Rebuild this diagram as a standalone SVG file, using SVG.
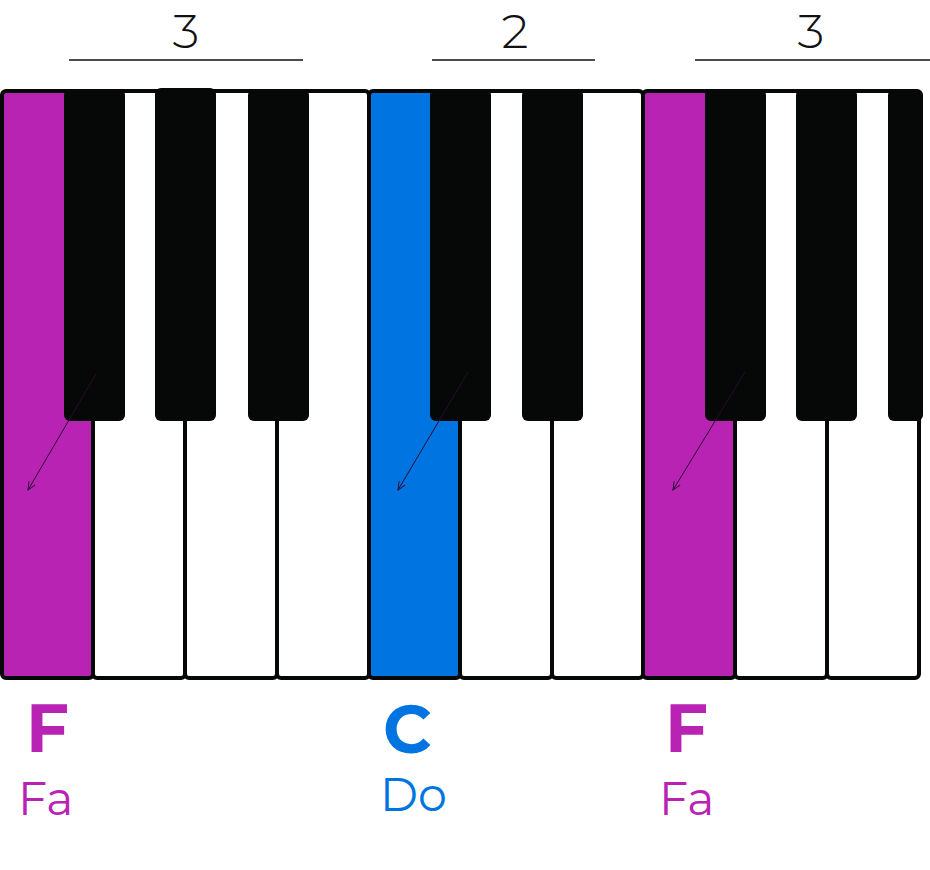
<svg xmlns="http://www.w3.org/2000/svg" width="930" height="870" viewBox="0 0 930 870">
<defs>
<style>
.w{fill:#fff;stroke:#050807;stroke-width:4}
.f{fill:#B823B4;stroke:#050807;stroke-width:4}
.c{fill:#0074E0;stroke:#050807;stroke-width:4}
.b{fill:#050807}
.num{font-family:"Montserrat","Open Sans","Liberation Sans",sans-serif;font-size:48px;font-weight:300;fill:#111;text-anchor:middle}
.br{stroke:#111;stroke-width:1.5}
.big{font-family:"Montserrat","Open Sans","Liberation Sans",sans-serif;font-weight:700;font-size:67px}
.sm{font-family:"Montserrat","Open Sans","Liberation Sans",sans-serif;font-weight:400;font-size:46px}
.arr{stroke:#2a0a30;stroke-width:1;fill:none}
</style>
<marker id="ah" viewBox="0 0 10 10" refX="9" refY="5" markerWidth="9" markerHeight="9" orient="auto" markerUnits="userSpaceOnUse">
<path d="M0,1 L9,5 L0,9" fill="none" stroke="#2a0a30" stroke-width="1"/>
</marker>
</defs>
<rect width="930" height="870" fill="#fff"/>
<g id="brackets">
<text class="num" x="186" y="48">3</text>
<line class="br" x1="69" y1="60" x2="303" y2="60"/>
<text class="num" x="515" y="48">2</text>
<line class="br" x1="432" y1="60" x2="595" y2="60"/>
<text class="num" x="811" y="48">3</text>
<line class="br" x1="695" y1="60" x2="930" y2="60"/>
</g>
<g id="white-keys">
<rect class="f" x="2" y="91" width="91" height="587" rx="4"/>
<rect class="w" x="93" y="91" width="92" height="587" rx="4"/>
<rect class="w" x="185" y="91" width="92" height="587" rx="4"/>
<rect class="w" x="277" y="91" width="92" height="587" rx="4"/>
<rect class="c" x="369" y="91" width="91" height="587" rx="4"/>
<rect class="w" x="460" y="91" width="92" height="587" rx="4"/>
<rect class="w" x="552" y="91" width="91" height="587" rx="4"/>
<rect class="f" x="643" y="91" width="92" height="587" rx="4"/>
<rect class="w" x="735" y="91" width="92" height="587" rx="4"/>
<rect class="w" x="827" y="91" width="92" height="587" rx="4"/>
</g>
<g id="black-keys">
<rect class="b" x="64" y="89" width="61" height="332" rx="6"/>
<rect class="b" x="155" y="88" width="61" height="333" rx="6"/>
<rect class="b" x="248" y="89" width="61" height="332" rx="6"/>
<rect class="b" x="430" y="89" width="61" height="332" rx="6"/>
<rect class="b" x="522" y="89" width="61" height="332" rx="6"/>
<rect class="b" x="705" y="89" width="61" height="332" rx="6"/>
<rect class="b" x="796" y="89" width="61" height="332" rx="6"/>
<rect class="b" x="888" y="89" width="35" height="332" rx="6"/>
</g>
<g id="connectors">
<line class="arr" x1="96" y1="374" x2="28" y2="490" marker-end="url(#ah)"/>
<line class="arr" x1="468" y1="372" x2="398" y2="490" marker-end="url(#ah)"/>
<line class="arr" x1="745" y1="372" x2="673" y2="490" marker-end="url(#ah)"/>
</g>
<g id="labels">
<text class="big" x="26" y="752" fill="#B823B4">F</text>
<text class="sm" x="18" y="815" fill="#B823B4">Fa</text>
<text class="big" x="383" y="753" fill="#0074E0">C</text>
<text class="sm" x="380" y="811" fill="#0074E0">Do</text>
<text class="big" x="665" y="752" fill="#B823B4">F</text>
<text class="sm" x="659" y="815" fill="#B823B4">Fa</text>
</g>
</svg>
